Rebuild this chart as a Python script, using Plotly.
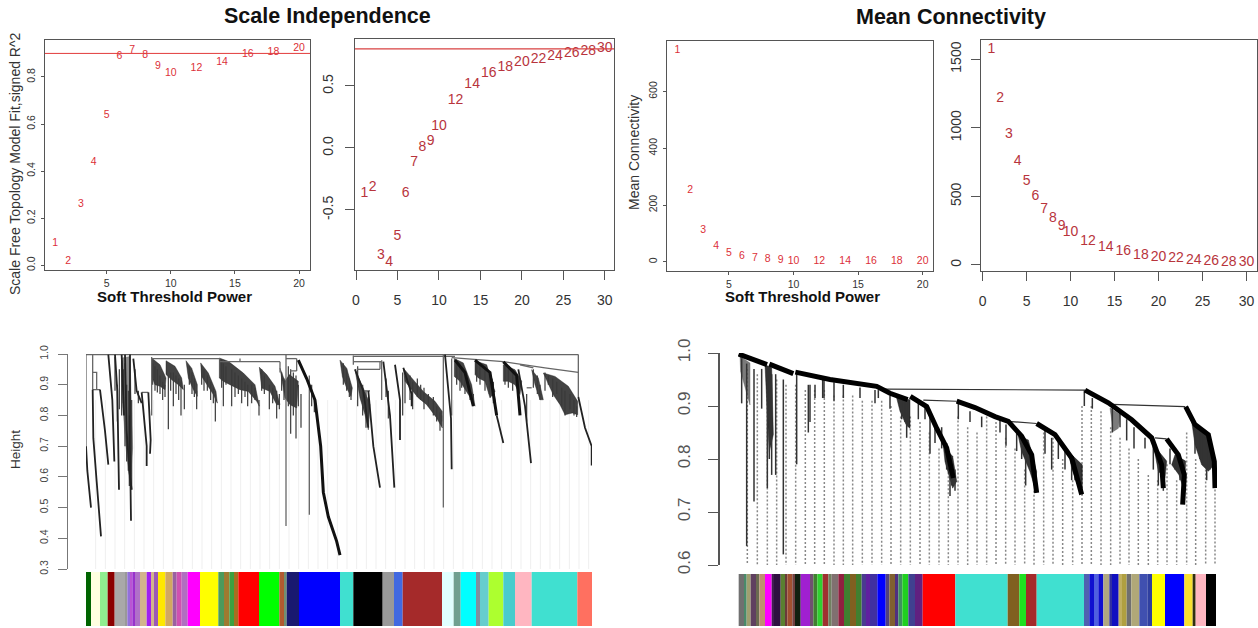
import plotly.graph_objects as go
import numpy as np

W, H = 1258, 628
RED_A = "#dc3038"
RED_B = "#b8343c"
AXC = "#555555"
SANS = "Liberation Sans"

# ---------- top panels ----------
powers_a = [1,2,3,4,5,6,7,8,9,10,12,14,16,18,20]
r2_a = [0.094,0.015,0.26,0.438,0.637,0.886,0.912,0.89,0.844,0.815,0.835,0.86,0.894,0.904,0.92]
powers_b = [1,2,3,4,5,6,7,8,9,10,12,14,16,18,20,22,24,26,28,30]
r2_b = [-0.37,-0.32,-0.865,-0.92,-0.71,-0.365,-0.12,0.0,0.05,0.17,0.38,0.51,0.6,0.65,0.69,0.715,0.74,0.76,0.78,0.8]
mean_c = [746,253,110,55,31,18,12,8,5,3.5,2,1,1,1,1]
mean_d = [1574,1212,950,756,612,498,408,342,284,240,170,126,95,68,58,44,29,22,20,17]
cutoff_a = 0.9
cutoff_b = 0.8
x_ticks_a = [5,10,15,20]
y_ticks_a = [0,0.2,0.4,0.6,0.8]
y_ticklabels_a = ["0.0","0.2","0.4","0.6","0.8"]
x_ticks_b = [0,5,10,15,20,25,30]
y_ticks_b = [-0.5,0,0.5]
y_ticklabels_b = ["-0.5","0.0","0.5"]
y_ticks_c = [0,200,400,600]
y_ticks_d = [0,500,1000,1500]

# ---------- left dendrogram (gene order, height) ----------
left_frame = [
    ([18,1495],[.998,.998]), ([18,18],[.998,.70]), ([38,38,38],[.998,.94,.884]),
    ([38,50,50],[.94,.94,.884]), ([38,60],[.884,.884]),
    ([215,215],[.99,.80]), ([215,420],[.985,.985]), ([420,600],[.975,.975]), ([480,480],[.985,.975]),
    ([600,600],[.975,.94]), ([618,618],[.998,.44]), ([618,650],[.985,.985]), ([630,650],[.945,.945]),
    ([650,650],[.985,.945]), ([688,688],[.93,.477]), ([185,205],[.875,.875]),
    ([820,820],[.995,.965]), ([820,905],[.975,.975]), ([830,900],[.95,.95]), ([900,900],[.975,.95]),
    ([850,870],[.88,.88]), ([905,905],[.98,.85]), ([820,1125],[.992,.992]), ([1090,1090],[.998,.50]),
    ([1115,1115],[.985,.80]), ([1115,1270],[.988,.975]), ([1270,1395],[.975,.955]), ([1395,1495],[.955,.94]),
    ([1495,1495],[.998,.86]), ([1320,1360],[.965,.955]), ([1340,1355],[.89,.89]),
]
left_curves = [
    ([18,22,33],[.70,.62,.50]), ([38,40,50,63],[.884,.726,.585,.406]), ([60,75,85],[.884,.75,.64]),
    ([85,97,103],[.998,.85,.65]), ([105,112,117],[.998,.88,.558]), ([125,130,132],[.998,.85,.80]),
    ([135,140,148,155],[.998,.75,.62,.558]), ([150,150,153],[.998,.70,.457]),
    ([160,170,185],[.985,.88,.84]), ([185,200,200],[.875,.70,.635]), ([205,212,210],[.875,.72,.675]),
    ([825,850,865],[.95,.88,.76]), ([865,880,900],[.88,.70,.565]), ([910,930,943],[.975,.80,.565]),
    ([945,960,960],[.965,.85,.72]), ([970,995,995],[.955,.87,.83]),
    ([1095,1113,1115],[.998,.79,.625]), ([1235,1245],[.92,.84]), ([1250,1270],[.80,.71]),
    ([1315,1335,1353],[.95,.83,.645]), ([1495,1515,1535,1535],[.86,.76,.70,.637]),
]
left_thick = [
    ([655,680,705,722,730,745,770,780],[.98,.92,.85,.70,.55,.47,.39,.345]),
    ([1125,1155,1180],[.98,.94,.83]), ([1185,1230,1250],[.98,.94,.80]),
    ([1270,1310,1320],[.975,.93,.80]),
]
left_blobs = [
    ([215,240,258,255,240,225,215],[.987,.965,.922,.884,.895,.90,.927]),
    ([258,285,305,310,295,275,258],[.978,.96,.922,.884,.90,.916,.933]),
    ([318,335,352,352,340,325],[.978,.954,.90,.862,.884,.922]),
    ([362,385,408,412,400,380,365],[.971,.938,.878,.84,.868,.90,.927]),
    ([418,445,490,525,538,530,505,480,450,430,418],[.987,.976,.938,.90,.83,.846,.878,.884,.90,.911,.922]),
    ([538,560,585,600,590,570,545],[.957,.933,.895,.835,.835,.878,.889]),
    ([600,615,628,655,650,630,615],[.954,.911,.933,.911,.824,.835,.857]),
    ([780,800,817,813,800,787],[.98,.954,.889,.862,.889,.927]),
    ([825,850,870,865,855,840],[.949,.889,.835,.753,.802,.857]),
    ([970,1005,1030,1065,1087,1087,1070,1040,1015,995,975],[.954,.911,.878,.846,.813,.759,.792,.835,.857,.884,.911]),
    ([1123,1150,1175,1185,1175,1160,1140,1123],[.985,.971,.90,.83,.851,.878,.911,.927]),
    ([1185,1220,1245,1230,1215,1195,1185],[.978,.965,.878,.857,.911,.922,.933]),
    ([1270,1305,1325,1320,1305,1285,1270],[.965,.949,.911,.868,.90,.911,.911]),
    ([1355,1375,1390,1380,1365],[.949,.922,.851,.851,.90]),
    ([1390,1425,1465,1493,1493,1477,1455,1440,1420,1405],[.938,.927,.895,.846,.802,.808,.802,.835,.867,.90]),
]
left_grey_blobs = [
    ([125,150,158,150,138,128],[.987,.992,.694,.575,.694,.835]),
]
left_drops = [
    (105,.99,.88),(112,.9,.78),(118,.95,.82),(125,.98,.80),(130,.95,.84),(135,.97,.70),(140,.9,.65),(145,.88,.62),
    (148,.8,.57),(155,.85,.56),(165,.95,.87),(175,.88,.84),
    (218,.97,.90),(225,.96,.88),(232,.95,.875),(240,.93,.87),(248,.91,.85),(255,.90,.86),(265,.93,.755),
    (272,.94,.88),(280,.94,.83),(288,.93,.87),(296,.92,.85),(303,.91,.80),(313,.90,.82),
    (328,.96,.90),(336,.94,.87),(343,.92,.86),(350,.88,.82),(365,.96,.90),(372,.95,.88),(382,.93,.88),(392,.91,.85),
    (400,.89,.84),(406,.87,.78),(425,.98,.89),(430,.97,.83),(438,.96,.90),(455,.95,.83),(465,.94,.86),(475,.93,.87),
    (485,.92,.84),(495,.91,.86),(503,.90,.83),(515,.90,.84),(525,.89,.85),(537,.85,.80),
    (545,.95,.88),(553,.93,.87),(568,.90,.82),(578,.89,.84),(590,.88,.79),(598,.87,.82),(605,.94,.88),(612,.92,.85),
    (625,.96,.83),(632,.95,.74),(640,.94,.80),(648,.93,.725),(655,.90,.83),(663,.87,.76),(695,.90,.83),(703,.86,.81),
    (790,.97,.90),(800,.95,.88),(808,.92,.86),(813,.89,.85),(833,.96,.83),(848,.90,.80),(858,.88,.76),(865,.86,.78),
    (918,.92,.86),(925,.88,.79),(968,.94,.80),(975,.93,.84),(990,.93,.85),(998,.91,.82),(1012,.92,.86),(1022,.90,.85),
    (1032,.89,.82),(1045,.87,.83),(1060,.86,.80),(1070,.83,.78),(1080,.81,.75),(1085,.80,.78),
    (1130,.98,.90),(1140,.97,.88),(1145,.96,.89),(1155,.94,.87),(1170,.90,.85),(1180,.87,.83),
    (1190,.98,.91),(1200,.97,.90),(1215,.96,.88),(1228,.94,.87),(1240,.91,.84),
    (1275,.97,.90),(1285,.96,.89),(1298,.94,.88),(1340,.87,.78),(1360,.95,.89),(1372,.93,.87),(1380,.90,.85),
    (1395,.94,.88),(1405,.93,.90),(1418,.92,.86),(1430,.91,.87),(1445,.89,.83),(1455,.88,.80),(1470,.87,.82),
    (1482,.85,.80),(1490,.83,.795),
]
left_guides = [47,76,105,134,163,192,221,250,279,308,337,366,395,424,453,482,511,540,569,598,627,656,685,714,743,772,
               801,830,859,888,917,946,975,1004,1033,1062,1091,1120,1149,1178,1207,1236,1265,1294,1323,1352,1381,1410,1439,1468,1497,1526]
left_bar_edges = [17,33,60,83,104,135,142,150,157,165,180,200,213,222,234,256,278,290,305,323,360,415,432,448,462,475,537,598,612,620,
                  657,780,820,908,942,968,1086,1121,1142,1188,1200,1226,1270,1305,1355,1492,1537]
left_bar_colors = ["#006400","#FFFFE0","#90EE90","#8B0000","#A9A9A9","#999999","#9370DB","#BA55D3","#9932CC","#B070C8","#D2B48C","#A020F0",
                   "#D2B48C","#9B59B6","#FFE800","#D2A860","#9A60A0","#D050B0","#B06FC0","#FF00FF","#FFFF00","#4C9A5C","#A07A30","#3CA040",
                   "#A86E20","#FF0000","#00FF00","#B05A30","#709070","#191970","#0000FF","#40E0D0","#000000","#999999","#4169E1","#A52A2A",
                   "#E0FFFF","#70A090","#00FFFF","#7F8F9F","#66CDCD","#ADFF2F","#48CCCC","#FFB6C1","#40E0D0","#FF7060"]

# ---------- right dendrogram (gene order, height) ----------
right_thick = [
    ([26,111],[.998,.978]), ([118,190],[.979,.961]), ([196,300,440,480,533],[.964,.95,.937,.924,.912]),
    ([541,590,620,650,670],[.918,.899,.858,.821,.764]), ([680,735,795,835,875,905,920],[.909,.897,.88,.871,.843,.808,.736]),
    ([920,975,1025,1055],[.867,.846,.802,.733]), ([1065,1135,1205,1265,1295,1300],[.93,.906,.874,.84,.789,.745]),
    ([1310,1345,1363,1358],[.838,.808,.77,.714]), ([1367,1395,1435,1453,1455],[.899,.865,.846,.795,.745]),
]
right_frame = [
    ([465,1065],[.932,.930]), ([580,680],[.911,.909]), ([835,920],[.871,.867]), ([1145,1365],[.903,.899]), ([1275,1310],[.84,.838]),
]
right_blobs = [
    ([640,668,680,668,655,645],[.824,.805,.758,.745,.773,.795]),
    ([500,540,540,528,510],[.915,.912,.858,.865,.89]),
    ([105,125,130,118,112],[.978,.972,.846,.814,.884]),
    ([865,895,920,915,900,875],[.843,.836,.776,.745,.776,.814]),
    ([1015,1057,1057,1040,1025],[.814,.789,.733,.755,.783]),
    ([1270,1310,1305,1285],[.827,.796,.764,.777]),
    ([1335,1367,1363,1347,1325],[.808,.796,.739,.77,.789]),
    ([1385,1435,1453,1435,1415,1395],[.871,.849,.789,.777,.789,.827]),
]
right_grey_blobs = [
    ([30,60,60,45,32],[.994,.981,.902,.934,.965]),
    ([1140,1170,1165,1150],[.896,.884,.858,.852]),
]
right_drops = [
    (35,.99,.905),(50,.98,.636),(72,.97,.72),(95,.97,.895),(112,.97,.745),(118,.96,.80),(125,.96,.77),(137,.96,.77),(160,.95,.62),
    (200,.96,.79),(235,.94,.85),(240,.94,.87),(255,.94,.915),(278,.95,.915),(282,.95,.915),(312,.945,.91),(340,.94,.915),(390,.935,.915),(435,.93,.905),
    (445,.93,.915),(480,.92,.895),(515,.915,.875),(525,.915,.87),(530,.91,.84),(535,.91,.86),(565,.905,.875),(585,.9,.875),(600,.88,.81),(615,.86,.83),
    (635,.86,.82),(650,.83,.78),(660,.80,.73),(665,.80,.75),(675,.78,.74),(685,.905,.875),(720,.89,.87),(755,.88,.86),
    (810,.875,.85),(828,.865,.825),(860,.855,.815),(875,.84,.80),(887,.82,.75),(900,.81,.78),(945,.855,.81),(965,.84,.78),
    (985,.84,.80),(1005,.82,.78),(1025,.80,.76),(1035,.80,.76),(1050,.77,.74),(1063,.93,.90),(1087,.915,.895),(1147,.905,.85),(1170,.89,.86),
    (1190,.875,.835),(1212,.86,.82),(1245,.84,.82),(1270,.83,.78),(1285,.81,.75),(1300,.78,.74),(1320,.82,.79),(1335,.80,.78),(1350,.80,.76),
    (1395,.86,.81),(1410,.855,.80),(1420,.85,.79),(1430,.84,.76),(1440,.83,.78),
]
right_guides = [52,82,112,140,168,197,226,254,283,312,340,368,397,426,455,483,512,541,570,598,627,655,684,713,741,770,
                798,827,855,884,912,941,969,998,1028,1056,1084,1113,1142,1170,1197,1225,1255,1283,1311,1340,1370,1397,1427,1455]
right_guide_tops = [.97,.96,.95,.95,.94,.94,.93,.93,.93,.92,.92,.92,.91,.91,.91,.90,.88,.88,.87,.85,.82,.79,.88,.86,.85,.88,
                    .87,.84,.82,.78,.74,.85,.84,.80,.76,.90,.90,.89,.86,.84,.82,.80,.77,.76,.79,.76,.85,.80,.78,.75]
right_bar_edges = [26,42,50,62,78,88,105,125,132,152,165,172,187,195,212,240,250,262,278,295,305,325,342,360,378,395,408,420,442,467,478,495,505,517,535,555,
                   578,676,833,868,888,920,1062,1078,1092,1105,1120,1138,1146,1166,1176,1190,1204,1228,1252,1266,1305,1363,1388,1397,1428,1458]
right_bar_colors = ["#707070","#4A8A6A","#A0A070","#604060","#6A6A50","#C09070","#FF00FF","#402050","#301040","#5A8030","#6A3A3A","#A05030","#704040","#102010",
                    "#A020D0","#705070","#408030","#30D030","#A03030","#708060","#807070","#902040","#408030","#806020","#408030","#4A3A90","#6020A0","#4030A0",
                    "#0000FF","#504080","#806030","#503080","#409060","#20D020","#404090","#602080","#FF0000","#40E0D0","#806020","#20E020","#A52A2A","#40E0D0",
                    "#5060B0","#1010D0","#5060E0","#1010D0","#B0A880","#3030A0","#1010C0","#C0B060","#B0A040","#707070","#B0A878","#4050B0","#3040A0","#FFFF00",
                    "#0000FF","#F8E030","#303010","#FFB6C1","#000000"]


def dx(a, b): return [a / W, b / W]
def dy(top, bot): return [1 - bot / H, 1 - top / H]


def join(strokes):
    xs, ys = [], []
    for a, b in strokes:
        xs += list(a) + [None]
        ys += list(b) + [None]
    return xs, ys


def drops(items):
    xs, ys = [], []
    for g, t, b in items:
        xs += [g, g, None]
        ys += [t, b, None]
    return xs, ys


fig = go.Figure()


def lines(xy, ax, color, width, dash=None):
    fig.add_trace(go.Scatter(x=xy[0], y=xy[1], mode="lines", xaxis="x" + ax, yaxis="y" + ax, cliponaxis=False,
                             line=dict(color=color, width=width, dash=dash), hoverinfo="skip", showlegend=False))


def blobs(polys, ax, color):
    for px, py in polys:
        fig.add_trace(go.Scatter(x=px + px[:1], y=py + py[:1], mode="lines", fill="toself", fillcolor=color, xaxis="x" + ax, yaxis="y" + ax,
                                 line=dict(color=color, width=0.5), hoverinfo="skip", showlegend=False))


def labels(px, py, ax, color, size):
    fig.add_trace(go.Scatter(x=px, y=py, text=[str(p) for p in px], mode="text", xaxis="x" + ax, yaxis="y" + ax,
                             textfont=dict(color=color, size=size, family=SANS), showlegend=False))


labels(powers_a, r2_a, "", RED_A, 10.5)
lines(([0.2, 20.85], [cutoff_a, cutoff_a]), "", "#e23b3b", 1)
labels(powers_b, r2_b, "2", RED_B, 14)
lines(([-0.12, 31.1], [cutoff_b, cutoff_b]), "2", "#d84040", 1.2)
labels(powers_a, mean_c, "3", RED_A, 10.5)
labels(powers_b, mean_d, "4", RED_B, 14)

# left dendrogram
lines(drops([(g, .85, .297) for g in left_guides]), "5", "#efefef", 1)
blobs(left_grey_blobs, "5", "rgba(110,110,110,0.8)")
blobs(left_blobs, "5", "rgba(20,20,20,0.8)")
lines(drops(left_drops), "5", "#3a3a3a", 1.2)
lines(join(left_frame), "5", "#666666", 1.3)
lines(join(left_curves), "5", "#222222", 1.8)
lines(join(left_thick), "5", "#111111", 3)

# right dendrogram
lines(drops(list(zip(right_guides, right_guide_tops, [.585] * len(right_guides)))), "6", "#888888", 1.5, "2px,2px")
blobs(right_grey_blobs, "6", "rgba(90,90,90,0.8)")
blobs(right_blobs, "6", "rgba(15,15,15,0.85)")
lines(drops(right_drops), "6", "#333333", 1.5)
lines(join(right_frame), "6", "#333333", 1.2)
lines(join(right_thick), "6", "#000000", 5)

# module colour bars
for edges, cols, ax, ya in [(left_bar_edges, left_bar_colors, "x5", "y7"), (right_bar_edges, right_bar_colors, "x6", "y8")]:
    fig.add_trace(go.Bar(x=np.diff(edges).tolist(), base=edges[:-1], y=[0] * len(cols), orientation="h", width=1,
                         marker=dict(color=cols, line=dict(width=0)), xaxis=ax, yaxis=ya, hoverinfo="skip", showlegend=False))


def box_axes(name, xdom, ydom, xr, yr, xt, yt, ytl, fs, xstand, ystand, tlen, tcol):
    fig.layout["xaxis" + name] = dict(domain=dx(*xdom), range=xr, anchor="y" + name, tickvals=xt, showgrid=False, zeroline=False, showline=True,
                                      mirror=True, linecolor=AXC, linewidth=1.2, ticks="outside", ticklen=tlen, tickcolor=AXC,
                                      ticklabelstandoff=xstand, tickfont=dict(size=fs, family=SANS, color=tcol))
    fig.layout["yaxis" + name] = dict(domain=dy(*ydom), range=yr, anchor="x" + name, tickvals=yt, ticktext=ytl, showgrid=False, zeroline=False, showline=True,
                                      mirror=True, linecolor=AXC, linewidth=1.2, ticks="outside", ticklen=tlen, tickcolor=AXC, tickangle=-90,
                                      ticklabelstandoff=ystand, tickfont=dict(size=fs, family=SANS, color=tcol))


box_axes("", (45, 310), (40, 270), [0.2, 20.85], [-0.02, 0.957], x_ticks_a, y_ticks_a, y_ticklabels_a, 10.5, 0, 2, 3, "#333333")
box_axes("2", (355, 614), (39, 270), [-0.12, 31.1], [-0.984, 0.879], x_ticks_b, y_ticks_b, y_ticklabels_b, 14, 8, 6, 9, "#333333")
box_axes("3", (667, 933), (41, 271), [0.2, 20.8], [-32, 778], x_ticks_a, y_ticks_c, [str(v) for v in y_ticks_c], 10.5, 0, 2, 3, "#333333")
box_axes("4", (981, 1257), (40, 271), [-0.18, 31.2], [-44, 1640], x_ticks_b, y_ticks_d, [str(v) for v in y_ticks_d], 14, 8, 4, 9, "#333333")

fig.update_layout(
    template="none",
    xaxis5=dict(domain=dx(86, 592), range=[18, 1536], anchor="y5", visible=False),
    yaxis5=dict(domain=dy(354, 569), range=[0.3, 1.0], anchor="free", position=67 / W, side="left", tickvals=[.3, .4, .5, .6, .7, .8, .9, 1.0],
                ticktext=["0.3", "0.4", "0.5", "0.6", "0.7", "0.8", "0.9", "1.0"], tickangle=-90, ticks="outside", ticklen=9, tickcolor="#777777", ticklabelstandoff=6,
                showline=True, linecolor="#777777", linewidth=1.2, showgrid=False, zeroline=False, tickfont=dict(size=10.5, family=SANS, color="#444444")),
    xaxis6=dict(domain=dx(738, 1217), range=[24, 1461], anchor="y6", visible=False),
    yaxis6=dict(domain=dy(353, 565), range=[0.6, 1.0], anchor="free", position=719 / W, side="left", tickvals=[.6, .7, .8, .9, 1.0],
                ticktext=["0.6", "0.7", "0.8", "0.9", "1.0"], tickangle=-90, ticks="outside", ticklen=10, tickcolor="#555555", ticklabelstandoff=11,
                showline=True, linecolor="#555555", linewidth=1.5, showgrid=False, zeroline=False, tickfont=dict(size=17, family=SANS, color="#555555")),
    yaxis7=dict(domain=dy(572, 626), range=[-0.5, 0.5], anchor="x5", visible=False),
    yaxis8=dict(domain=dy(574, 626), range=[-0.5, 0.5], anchor="x6", visible=False),
    width=W, height=H, margin=dict(l=0, r=0, t=0, b=0), paper_bgcolor="white", plot_bgcolor="white", barmode="overlay", showlegend=False,
)


def note(text, x, y, size, bold=False, angle=0, color="#111111"):
    fig.add_annotation(xref="paper", yref="paper", x=x / W, y=1 - y / H, text=f"<b>{text}</b>" if bold else text, showarrow=False, textangle=angle,
                       font=dict(size=size, color=color, family=SANS), xanchor="center", yanchor="middle")


note("Scale Independence", 327, 16, 21.5, True)
note("Mean Connectivity", 951, 17, 21.5, True)
note("Soft Threshold Power", 175, 296, 15, True)
note("Soft Threshold Power", 802, 297, 15, True)
note("Scale Free Topology Model Fit,signed R^2", 15, 164, 14, False, -90, "#333333")
note("Mean Connectivity", 634, 152, 14, False, -90, "#333333")
note("Height", 16, 450, 13.5, False, -90, "#333333")

fig.write_html("out.html", config={"displayModeBar": False},
               post_script="document.body.style.margin='0';document.documentElement.style.overflow='hidden';")
